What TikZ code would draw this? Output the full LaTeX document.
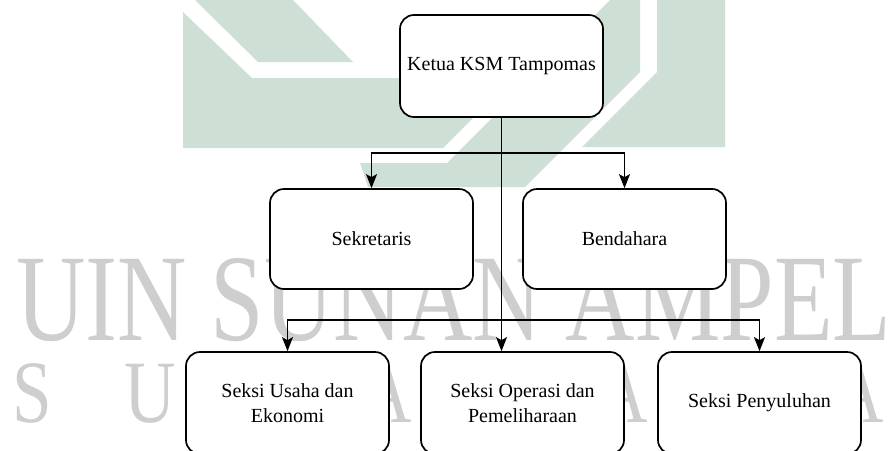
\documentclass[tikz,border=0pt]{standalone}
\usepackage{fontspec}
\setmainfont{Liberation Serif}
\usepackage{graphicx}
\usetikzlibrary{arrows.meta}
\definecolor{wmgreen}{RGB}{206,224,213}
\definecolor{wmgrey}{RGB}{206,206,206}

\begin{document}
\begin{tikzpicture}[x=1pt, y=-1pt,
    box/.style={draw=black, line width=1.7pt, fill=white, rounded corners=14pt,
      minimum width=203pt, minimum height=102pt, align=center, inner sep=0pt,
      font=\fontsize{20}{25}\selectfont},
    link/.style={line width=1.7pt, -{Stealth[length=14pt, width=11pt, inset=3pt]}},
    wmark/.style={text=wmgrey, inner sep=0pt, anchor=base}]
    \useasboundingbox (0,0) rectangle (890,450);
    \fill[wmgreen] (195,0) -- (293,0) -- (353,62) -- (258,62) -- cycle;
    \fill[wmgreen] (183,12) -- (252,78) -- (513,78) -- (443,148) -- (183,148) -- cycle;
    \fill[wmgreen] (610,0) -- (640,0) -- (640,72) -- (525,187) -- (368,187) -- (360,163) -- (447,163) -- cycle;
    \fill[wmgreen] (657,0) -- (725,0) -- (725,147) -- (582,147) -- (657,72) -- cycle;
    \node[wmark, anchor=base west] (wmtop) at (16,340) {\scalebox{0.775}[1]{\fontsize{124}{124}\selectfont UIN SUNAN AMPEL}};
    \foreach \ch/\xx in {S/32, U/150, A/386, A/622, A/858}
        \node[wmark] (wm-\xx) at (\xx,422) {\scalebox{0.8}[1]{\fontsize{89}{89}\selectfont \ch}};
    \node[box] (ketua) at (501.5,66) {Ketua KSM Tampomas};
    \node[box, minimum height=100pt] (sekretaris) at (371.5,239) {Sekretaris};
    \node[box, minimum height=100pt] (bendahara) at (624.5,239) {Bendahara};
    \node[box] (usaha) at (287.5,403) {Seksi Usaha dan\\Ekonomi};
    \node[box] (operasi) at (522.5,403) {Seksi Operasi dan\\Pemeliharaan};
    \node[box] (penyuluhan) at (759.5,403) {Seksi Penyuluhan};
    \coordinate (split1) at (ketua.south |- 0,153);
    \coordinate (split2) at (ketua.south |- 0,320);
    \draw[link] (ketua.south) -- (ketua.south |- operasi.north);
    \draw[link] (split1) -| (sekretaris.north);
    \draw[link] (split1) -| (bendahara.north);
    \draw[link] (split2) -| (usaha.north);
    \draw[link] (split2) -| (penyuluhan.north);
\end{tikzpicture}
\end{document}
